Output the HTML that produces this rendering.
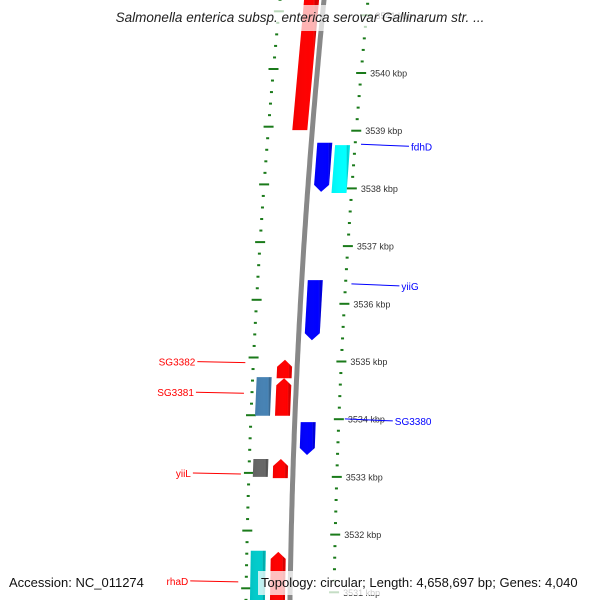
<!DOCTYPE html>
<html><head><meta charset="utf-8"><style>
body{margin:0;background:#fff}
svg{display:block;font-family:"Liberation Sans","DejaVu Sans",sans-serif}
</style></head><body>
<svg id="map" width="600" height="600" viewBox="0 0 600 600">
<defs>
<linearGradient id="shade" x1="0" x2="1" y1="0" y2="0">
<stop offset="0" stop-color="#000" stop-opacity="0.05"/>
<stop offset="0.75" stop-color="#fff" stop-opacity="0"/>
<stop offset="0.85" stop-color="#000" stop-opacity="0.2"/>
<stop offset="1" stop-color="#000" stop-opacity="0.05"/>
</linearGradient>
<linearGradient id="bb" x1="0" x2="1"><stop offset="0" stop-color="#999"/><stop offset="0.5" stop-color="#666"/><stop offset="1" stop-color="#aaa"/></linearGradient>
</defs>
<g id="rings"></g>
<g id="genes"></g>
<g id="labels"></g>
<rect x="88" y="5" width="424" height="26" fill="#fff" fill-opacity="0.7"/>
<text x="300" y="22" text-anchor="middle" font-size="13.5" font-style="italic" fill="#222">Salmonella enterica subsp. enterica serovar Gallinarum str. ...</text>
<text x="9" y="587" font-size="13" fill="#111">Accession: NC_011274</text>
<rect x="258" y="571" width="336" height="24" fill="#fff" fill-opacity="0.75"/>
<text x="261" y="587" font-size="13" fill="#111">Topology: circular; Length: 4,658,697 bp; Genes: 4,040</text>
</svg>
<script>
const tickKbp=[3541,3540,3539,3538,3537,3536,3535,3534,3533,3532,3531];
const geneNames=["big-red","fdhD","fdhD-cyan","yiiG","SG3382","SG3381-blue","SG3381","SG3380","yiiL-gray","yiiL","rhaD-cyan","rhaD"];
const geneStart=[3541.35,3538.79,3538.75,3536.41,3535.03,3534.73,3534.71,3533.95,3533.31,3533.31,3531.72,3531.70];
const geneEnd=[3539.01,3537.94,3537.92,3535.37,3534.71,3534.06,3534.06,3533.38,3533.00,3532.98,3530.70,3530.70];
const geneStrand=[0,-1,0,-1,1,0,1,-1,0,1,0,1];
const geneColor=["#ff0000","#0000ff","#00ffff","#0000ff","#ff0000","#4682b4","#ff0000","#0000ff","#666666","#ff0000","#00cccc","#ff0000"];
const geneLane=[-1,1,2,1,-1,-2,-1,1,-2,-1,-2,-1];
const labelTexts=["fdhD","yiiG","SG3380","SG3382","SG3381","yiiL","rhaD"];
const labelKbp=[3538.73,3536.31,3533.97,3534.98,3534.45,3533.05,3531.18];
const labelSide=[1,1,1,-1,-1,-1,-1];

const NS="http://www.w3.org/2000/svg";
function yOf(k){return 73+(3540-k)*57.7;}
function xB(y){return 324-0.0992*y+7.08e-5*y*y;}
function mk(tag,attrs,parent){const e=document.createElementNS(NS,tag);for(const k in attrs)e.setAttribute(k,attrs[k]);parent.appendChild(e);return e;}
const rings=document.getElementById('rings'),genes=document.getElementById('genes'),labels=document.getElementById('labels');

// backbone
let d="";for(let y=-5;y<=605;y+=5){d+=(y===-5?"M":"L")+xB(y).toFixed(1)+","+y;}
const bb=mk('path',{d:d,stroke:'#888',"stroke-width":5,fill:'none'},rings);



// tick dots
for(let k=3541.4;k>=3530.6;k-=0.2){
  const kk=Math.round(k*10)/10;const y=yOf(kk);
  const major=Math.abs(kk-Math.round(kk))<0.01;
  const xr=xB(y)+44;
  const r=mk('line',{x1:xr-(major?5:1.5),x2:xr+(major?5:1.5),y1:y,y2:y,stroke:'#1a7a1a',"stroke-width":2},rings);
  
  
  const yl=y-4;const xl=xB(yl)-44;
  const l=mk('line',{x1:xl-(major?5:1.5),x2:xl+(major?5:1.5),y1:yl,y2:yl,stroke:'#1a7a1a',"stroke-width":2},rings);
  
  
}
tickKbp.forEach(k=>{
  const y=yOf(k);
  const t=mk('text',{x:xB(y)+53,y:y+3.5,"font-size":9,fill:'#333'},rings);
  t.textContent=k+" kbp";
  
  
});

// genes
const laneOff={"-2":[-40,-25],"-1":[-20,-5],"1":[6,21],"2":[24,39]};
geneNames.forEach((n,i)=>{
  const y1=yOf(geneStart[i]),y2=yOf(geneEnd[i]);
  const [a,b]=laneOff[geneLane[i]];
  const s=geneStrand[i];const h=7;
  let pts;
  const P=(y,o)=>(xB(y)+o).toFixed(1)+","+y.toFixed(1);
  if(s===1){const ym=y1+h;pts=[P(y2,a),P(ym,a),P(y1,(a+b)/2),P(ym,b),P(y2,b)];}
  else if(s===-1){const ym=y2-h;pts=[P(y1,a),P(ym,a),P(y2,(a+b)/2),P(ym,b),P(y1,b)];}
  else pts=[P(y1,a),P(y2,a),P(y2,b),P(y1,b)];
  const g=mk('polygon',{points:pts.join(" "),fill:geneColor[i]},genes);
  
  
  const g2=mk('polygon',{points:pts.join(" "),fill:'url(#shade)'},genes);
  
  
});

// labels
labelTexts.forEach((t,i)=>{
  const y=yOf(labelKbp[i]);const side=labelSide[i];
  const col=side===1?'#0000ff':'#ff0000';
  if(side===1){
    const x1=xB(y)+50,x2=x1+48;
    const l=mk('line',{x1:x1,y1:y-2,x2:x2,y2:y,stroke:col,"stroke-width":1},labels);
    
    
    const tx=mk('text',{x:x2+2,y:y+4,"font-size":10,fill:col},labels);
    tx.textContent=t;
    
    
  }else{
    const x2=xB(y)-52,x1=x2-48;
    const l=mk('line',{x1:x1,y1:y-1,x2:x2,y2:y,stroke:col,"stroke-width":1},labels);
    
    
    const tx=mk('text',{x:x1-2,y:y+3,"font-size":10,fill:col,"text-anchor":"end"},labels);
    tx.textContent=t;
    
    
  }
});
</script>
</body></html>
